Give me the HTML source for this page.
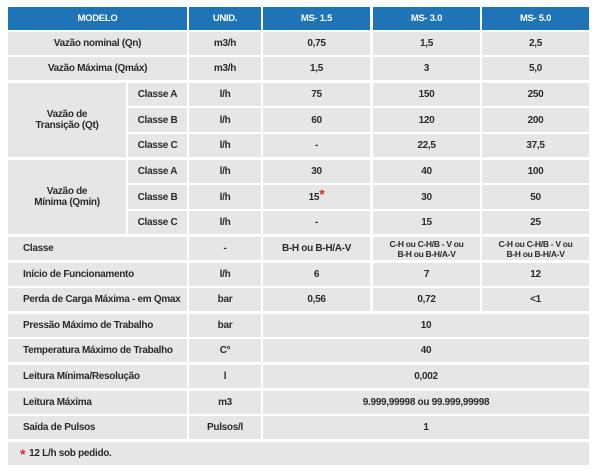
<!DOCTYPE html>
<html><head><meta charset="utf-8"><style>
body{margin:0;width:600px;height:473px;background:#fff;position:relative;overflow:hidden;font-family:"Liberation Sans",sans-serif;font-weight:bold;font-size:10px;color:#2a2a2a;letter-spacing:-0.3px}
.c{position:absolute;background:#e6e6e6;display:flex;align-items:center;justify-content:center;text-align:center;line-height:11px}
.h{background:#1f74b7;color:#fff;font-size:9.5px}
.l{justify-content:flex-start;padding-left:15px;box-sizing:border-box}
.s{font-size:8.5px;line-height:10px}
.r{color:#e3262b;font-size:14px;position:relative;top:-3px}
</style></head><body>
<div class="c h" style="left:8px;top:7px;width:179px;height:23px">MODELO</div>
<div class="c h" style="left:189px;top:7px;width:72px;height:23px">UNID.</div>
<div class="c h" style="left:263px;top:7px;width:107px;height:23px">MS- 1.5</div>
<div class="c h" style="left:373px;top:7px;width:107px;height:23px">MS- 3.0</div>
<div class="c h" style="left:482px;top:7px;width:107px;height:23px">MS- 5.0</div>

<div class="c" style="left:8px;top:32px;width:179px;height:23px">Vazão nominal (Qn)</div>
<div class="c" style="left:189px;top:32px;width:72px;height:23px">m3/h</div>
<div class="c" style="left:263px;top:32px;width:107px;height:23px">0,75</div>
<div class="c" style="left:373px;top:32px;width:107px;height:23px">1,5</div>
<div class="c" style="left:482px;top:32px;width:107px;height:23px">2,5</div>

<div class="c" style="left:8px;top:57px;width:179px;height:23px">Vazão Máxima (Qmáx)</div>
<div class="c" style="left:189px;top:57px;width:72px;height:23px">m3/h</div>
<div class="c" style="left:263px;top:57px;width:107px;height:23px">1,5</div>
<div class="c" style="left:373px;top:57px;width:107px;height:23px">3</div>
<div class="c" style="left:482px;top:57px;width:107px;height:23px">5,0</div>

<div class="c" style="left:8px;top:83px;width:118px;height:74px">Vazão de<br>Transição (Qt)</div>
<div class="c" style="left:128px;top:83px;width:59px;height:23px">Classe A</div>
<div class="c" style="left:189px;top:83px;width:72px;height:23px">l/h</div>
<div class="c" style="left:263px;top:83px;width:107px;height:23px">75</div>
<div class="c" style="left:373px;top:83px;width:107px;height:23px">150</div>
<div class="c" style="left:482px;top:83px;width:107px;height:23px">250</div>
<div class="c" style="left:128px;top:108px;width:59px;height:24px">Classe B</div>
<div class="c" style="left:189px;top:108px;width:72px;height:24px">l/h</div>
<div class="c" style="left:263px;top:108px;width:107px;height:24px">60</div>
<div class="c" style="left:373px;top:108px;width:107px;height:24px">120</div>
<div class="c" style="left:482px;top:108px;width:107px;height:24px">200</div>
<div class="c" style="left:128px;top:134px;width:59px;height:23px">Classe C</div>
<div class="c" style="left:189px;top:134px;width:72px;height:23px">l/h</div>
<div class="c" style="left:263px;top:134px;width:107px;height:23px">-</div>
<div class="c" style="left:373px;top:134px;width:107px;height:23px">22,5</div>
<div class="c" style="left:482px;top:134px;width:107px;height:23px">37,5</div>

<div class="c" style="left:8px;top:160px;width:118px;height:74px">Vazão de<br>Mínima (Qmin)</div>
<div class="c" style="left:128px;top:160px;width:59px;height:23px">Classe A</div>
<div class="c" style="left:189px;top:160px;width:72px;height:23px">l/h</div>
<div class="c" style="left:263px;top:160px;width:107px;height:23px">30</div>
<div class="c" style="left:373px;top:160px;width:107px;height:23px">40</div>
<div class="c" style="left:482px;top:160px;width:107px;height:23px">100</div>
<div class="c" style="left:128px;top:185px;width:59px;height:24px">Classe B</div>
<div class="c" style="left:189px;top:185px;width:72px;height:24px">l/h</div>
<div class="c" style="left:263px;top:185px;width:107px;height:24px">15<span class="r">*</span></div>
<div class="c" style="left:373px;top:185px;width:107px;height:24px">30</div>
<div class="c" style="left:482px;top:185px;width:107px;height:24px">50</div>
<div class="c" style="left:128px;top:211px;width:59px;height:23px">Classe C</div>
<div class="c" style="left:189px;top:211px;width:72px;height:23px">l/h</div>
<div class="c" style="left:263px;top:211px;width:107px;height:23px">-</div>
<div class="c" style="left:373px;top:211px;width:107px;height:23px">15</div>
<div class="c" style="left:482px;top:211px;width:107px;height:23px">25</div>

<div class="c l" style="left:8px;top:237px;width:179px;height:23px">Classe</div>
<div class="c" style="left:189px;top:237px;width:72px;height:23px">-</div>
<div class="c" style="left:263px;top:237px;width:107px;height:23px">B-H ou B-H/A-V</div>
<div class="c s" style="left:373px;top:237px;width:107px;height:23px">C-H ou C-H/B - V ou<br>B-H ou B-H/A-V</div>
<div class="c s" style="left:482px;top:237px;width:107px;height:23px">C-H ou C-H/B - V ou<br>B-H ou B-H/A-V</div>

<div class="c l" style="left:8px;top:263px;width:179px;height:23px">Início de Funcionamento</div>
<div class="c" style="left:189px;top:263px;width:72px;height:23px">l/h</div>
<div class="c" style="left:263px;top:263px;width:107px;height:23px">6</div>
<div class="c" style="left:373px;top:263px;width:107px;height:23px">7</div>
<div class="c" style="left:482px;top:263px;width:107px;height:23px">12</div>

<div class="c l" style="left:8px;top:288px;width:179px;height:23px">Perda de Carga Máxima - em Qmax</div>
<div class="c" style="left:189px;top:288px;width:72px;height:23px">bar</div>
<div class="c" style="left:263px;top:288px;width:107px;height:23px">0,56</div>
<div class="c" style="left:373px;top:288px;width:107px;height:23px">0,72</div>
<div class="c" style="left:482px;top:288px;width:107px;height:23px">&lt;1</div>

<div class="c l" style="left:8px;top:314px;width:179px;height:23px">Pressão Máximo de Trabalho</div>
<div class="c" style="left:189px;top:314px;width:72px;height:23px">bar</div>
<div class="c" style="left:263px;top:314px;width:326px;height:23px">10</div>

<div class="c l" style="left:8px;top:339px;width:179px;height:23px">Temperatura Máximo de Trabalho</div>
<div class="c" style="left:189px;top:339px;width:72px;height:23px">C°</div>
<div class="c" style="left:263px;top:339px;width:326px;height:23px">40</div>

<div class="c l" style="left:8px;top:365px;width:179px;height:23px">Leitura Mínima/Resolução</div>
<div class="c" style="left:189px;top:365px;width:72px;height:23px">l</div>
<div class="c" style="left:263px;top:365px;width:326px;height:23px">0,002</div>

<div class="c l" style="left:8px;top:391px;width:179px;height:23px">Leitura Máxima</div>
<div class="c" style="left:189px;top:391px;width:72px;height:23px">m3</div>
<div class="c" style="left:263px;top:391px;width:326px;height:23px">9.999,99998 ou 99.999,99998</div>

<div class="c l" style="left:8px;top:416px;width:179px;height:23px">Saída de Pulsos</div>
<div class="c" style="left:189px;top:416px;width:72px;height:23px">Pulsos/l</div>
<div class="c" style="left:263px;top:416px;width:326px;height:23px">1</div>

<div class="c" style="left:8px;top:442px;width:581px;height:23px;justify-content:flex-start;padding-left:12px;box-sizing:border-box"><span class="r" style="top:1px;margin-right:4px">*</span>12 L/h sob pedido.</div>
</body></html>
